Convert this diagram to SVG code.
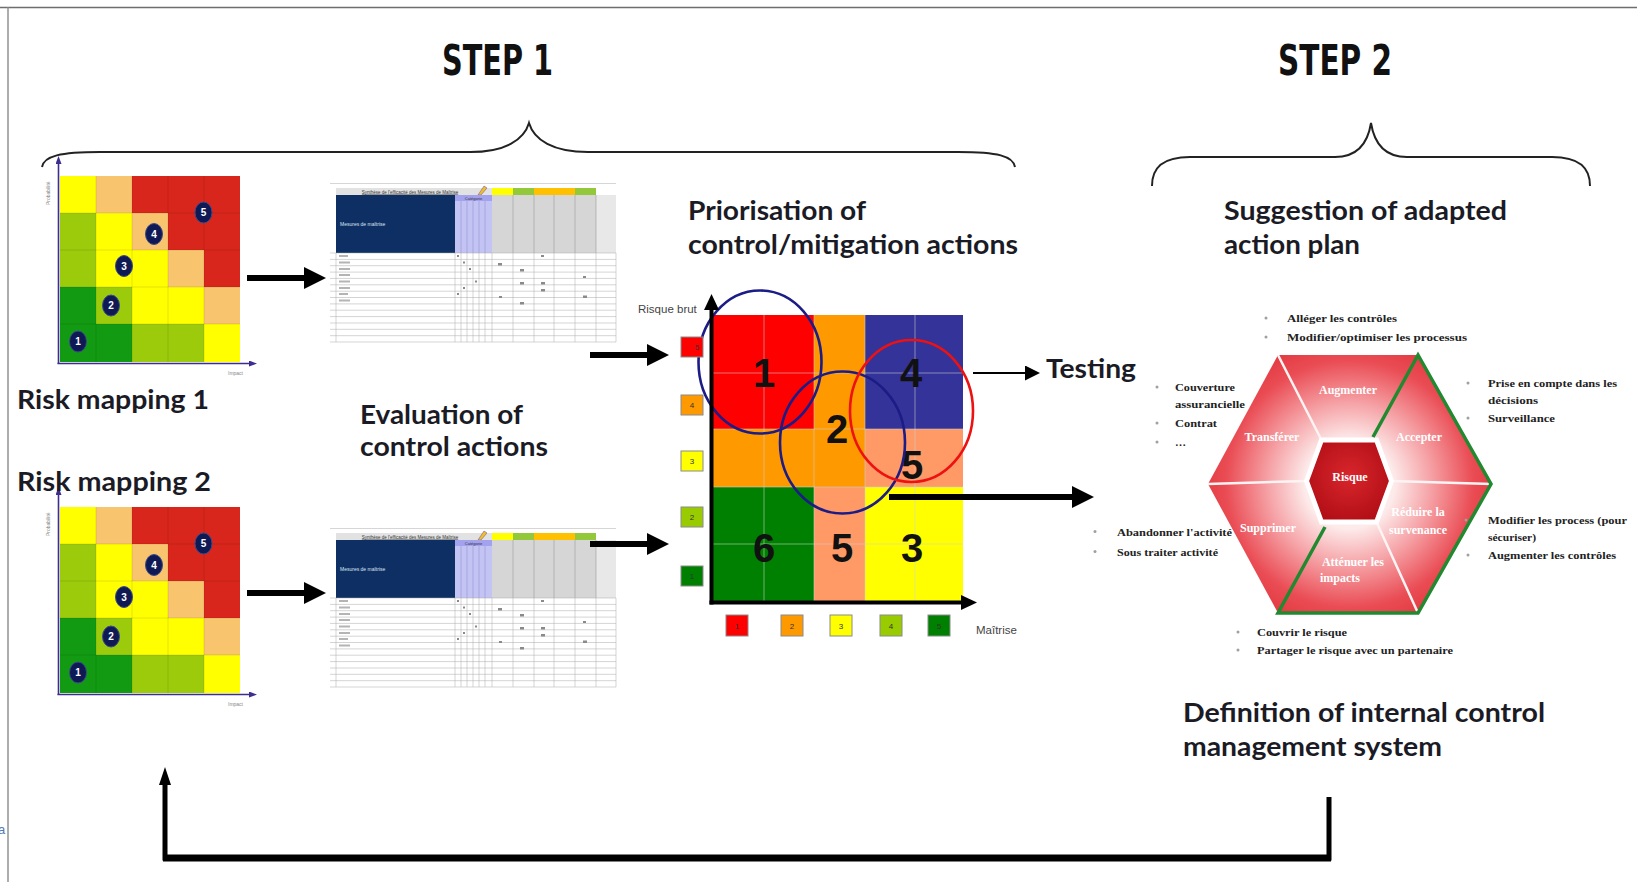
<svg xmlns="http://www.w3.org/2000/svg" xmlns:xlink="http://www.w3.org/1999/xlink" width="1637" height="882" viewBox="0 0 1637 882">
<defs>
<style>
.h{font-family:Lato,'Open Sans','Liberation Sans',sans-serif;font-weight:700;font-size:26px;fill:#1b1b26}
.step{font-family:'DejaVu Sans','Liberation Sans',sans-serif;font-weight:700;font-size:42px;fill:#111}
.num{font-family:'Liberation Sans',Arial,sans-serif;font-weight:700;font-size:40px;fill:#111;text-anchor:middle}
.bul{font-family:'Liberation Serif','Times New Roman',serif;font-weight:700;font-size:11px;fill:#222}
.seg{font-family:'Liberation Serif','Times New Roman',serif;font-weight:700;font-size:12px;fill:#fff;text-anchor:middle}
.tiny{font-family:'Liberation Sans',Arial,sans-serif;font-size:5px;fill:#888}
.lbl{font-family:'Liberation Sans',Arial,sans-serif;font-size:11.5px;fill:#444}
.lg{font-family:'Liberation Sans',Arial,sans-serif;font-size:8px;fill:#333;text-anchor:middle}
.dot{fill:#a0a0a0}
.cnum{font-family:'Liberation Sans',Arial,sans-serif;font-weight:700;font-size:10px;fill:#fff;text-anchor:middle}
.circ{fill:#0f1a55;stroke:#3a4a8a;stroke-width:1}
.grid{stroke:rgba(0,0,0,0.10);stroke-width:1}
.pgrid{stroke:rgba(210,210,210,0.55);stroke-width:1}
.conn{stroke:#000;fill:none}
.lgbox{stroke:#8a8a8a;stroke-width:1}
.shl{stroke:#a8a8a8;stroke-width:0.5}
.mk{fill:#8a8a8a}
</style>
<marker id="ah-big" markerUnits="userSpaceOnUse" markerWidth="22" markerHeight="24" refX="1" refY="12" orient="auto"><path d="M0,1 L22,12 L0,23 z" fill="#000"/></marker>
<marker id="ah-thin" markerUnits="userSpaceOnUse" markerWidth="15" markerHeight="15" refX="1" refY="7.5" orient="auto"><path d="M0,0 L15,7.5 L0,15 z" fill="#000"/></marker>
<marker id="ah-up" markerUnits="userSpaceOnUse" markerWidth="18" markerHeight="12" refX="1" refY="6" orient="auto"><path d="M0,0 L18,6 L0,12 z" fill="#000"/></marker>
<marker id="ah-axis" markerUnits="userSpaceOnUse" markerWidth="16" markerHeight="15" refX="1" refY="7.5" orient="auto"><path d="M0,0 L16,7.5 L0,15 z" fill="#000"/></marker>
<marker id="ah-purple" markerUnits="userSpaceOnUse" markerWidth="8" markerHeight="6" refX="1" refY="3" orient="auto"><path d="M0,0 L8,3 L0,6 z" fill="#3c2d8f"/></marker>
<radialGradient id="hexGrad" gradientUnits="userSpaceOnUse" cx="1349.5" cy="484" r="150">
<stop offset="0" stop-color="#ffffff"/>
<stop offset="0.3" stop-color="#fdeaea"/>
<stop offset="0.55" stop-color="#f5a0a4"/>
<stop offset="0.82" stop-color="#ea4d55"/>
<stop offset="1" stop-color="#e2383f"/>
</radialGradient>
<radialGradient id="innerGrad" gradientUnits="userSpaceOnUse" cx="1349" cy="476" r="48">
<stop offset="0" stop-color="#d8262c"/>
<stop offset="1" stop-color="#b20e16"/>
</radialGradient>

<g id="riskmap-tpl">
<rect x="60" y="176" width="36" height="37" fill="#ffff00"/>
<rect x="96" y="176" width="36" height="37" fill="#f9c46e"/>
<rect x="132" y="176" width="108" height="37" fill="#d9261c"/>
<rect x="60" y="213" width="36" height="37" fill="#9ccb0c"/>
<rect x="96" y="213" width="36" height="37" fill="#ffff00"/>
<rect x="132" y="213" width="36" height="37" fill="#f9c46e"/>
<rect x="168" y="213" width="72" height="37" fill="#d9261c"/>
<rect x="60" y="250" width="36" height="37" fill="#9ccb0c"/>
<rect x="96" y="250" width="72" height="37" fill="#ffff00"/>
<rect x="168" y="250" width="36" height="37" fill="#f9c46e"/>
<rect x="204" y="250" width="36" height="37" fill="#d9261c"/>
<rect x="60" y="287" width="36" height="37" fill="#129a12"/>
<rect x="96" y="287" width="36" height="37" fill="#9ccb0c"/>
<rect x="132" y="287" width="72" height="37" fill="#ffff00"/>
<rect x="204" y="287" width="36" height="37" fill="#f9c46e"/>
<rect x="60" y="324" width="72" height="38" fill="#129a12"/>
<rect x="132" y="324" width="72" height="38" fill="#9ccb0c"/>
<rect x="204" y="324" width="36" height="38" fill="#ffff00"/>
<path class="grid" d="M96,176V362M132,176V362M168,176V362M204,176V362M60,213H240M60,250H240M60,287H240M60,324H240"/>
<line x1="58.5" y1="364" x2="58.5" y2="163" stroke="#3c2d8f" stroke-width="1.6" marker-end="url(#ah-purple)"/>
<line x1="57.5" y1="363.5" x2="250" y2="363.5" stroke="#3c2d8f" stroke-width="1.6" marker-end="url(#ah-purple)"/>
<text class="tiny" transform="translate(50,205) rotate(-90)">Probabilité</text>
<text class="tiny" x="228" y="375">Impact</text>
<ellipse class="circ" cx="78" cy="341.5" rx="8.5" ry="10.5"/><text class="cnum" x="78" y="345">1</text>
<ellipse class="circ" cx="111" cy="305.5" rx="8.5" ry="10.5"/><text class="cnum" x="111" y="309">2</text>
<ellipse class="circ" cx="124" cy="266" rx="8.5" ry="10.5"/><text class="cnum" x="124" y="269.5">3</text>
<ellipse class="circ" cx="154" cy="234" rx="8.5" ry="10.5"/><text class="cnum" x="154" y="237.5">4</text>
<ellipse class="circ" cx="203.5" cy="212.5" rx="8.5" ry="10.5"/><text class="cnum" x="203.5" y="216">5</text>
</g>

<g id="sheet-tpl">
<line x1="330" y1="183.5" x2="616" y2="183.5" stroke="#d6d6d6" stroke-width="1"/>
<rect x="336" y="188" width="156" height="7" fill="#e2e2e2"/>
<text x="410" y="193.5" font-family="'Liberation Sans',Arial,sans-serif" font-size="4.5" fill="#333" text-anchor="middle" text-decoration="underline">Synthèse de l'efficacité des Mesures de Maîtrise</text>
<path d="M478,195 L484,186 L487,188 L481,195 z" fill="#f0c020" stroke="#7a5ab0" stroke-width="0.6"/>
<rect x="492" y="188" width="21" height="7" fill="#ffff00"/>
<rect x="513" y="188" width="21" height="7" fill="#92c83a"/>
<rect x="534" y="188" width="20" height="7" fill="#ffc000"/>
<rect x="554" y="188" width="21" height="7" fill="#ffc000"/>
<rect x="575" y="188" width="21" height="7" fill="#92c83a"/>
<rect x="336" y="195" width="119" height="58" fill="#0e2f63"/>
<text x="340" y="226" font-family="'Liberation Sans',Arial,sans-serif" font-size="5" fill="#dfe6f2">Mesures de maîtrise</text>
<rect x="455" y="195" width="37" height="58" fill="#c4c4f4"/>
<rect x="455" y="195" width="37" height="6" fill="#a2a2ee"/>
<text x="473.5" y="199.8" font-family="'Liberation Sans',Arial,sans-serif" font-size="4" fill="#333" text-anchor="middle">Catégorie</text>
<path d="M461,201V253M467,201V253M473,201V253M479,201V253M485,201V253" stroke="#8a8ac8" stroke-width="0.5"/>
<rect x="492" y="195" width="104" height="58" fill="#d6d6d6"/>
<rect x="596" y="195" width="20" height="58" fill="#e8e8e8"/>
<path d="M513,195V253M534,195V253M554,195V253M575,195V253M596,195V253" stroke="#9a9a9a" stroke-width="0.6"/>
<path class="shl" d="M330,253H616M330,259.4H616M330,265.7H616M330,272.1H616M330,278.4H616M330,284.8H616M330,291.2H616M330,297.5H616M330,303.9H616M330,310.2H616M330,316.6H616M330,323H616M330,329.3H616M330,335.7H616M330,342H616"/>
<path class="shl" d="M336,253V342M455,253V342M461,253V342M467,253V342M473,253V342M479,253V342M485,253V342M492,253V342M513,253V342M534,253V342M554,253V342M575,253V342M596,253V342M616,253V342"/>
<g fill="#b4b4b4">
<rect x="339" y="255" width="9" height="2"/><rect x="339" y="261.5" width="11" height="2"/><rect x="339" y="268" width="11" height="2"/><rect x="339" y="274" width="11" height="2"/><rect x="339" y="280.5" width="11" height="2"/><rect x="339" y="287" width="11" height="2"/><rect x="339" y="293" width="9" height="2"/><rect x="339" y="299.5" width="11" height="2"/>
</g>
<g class="mk">
<rect x="541" y="255" width="3" height="2"/><rect x="498" y="263" width="4" height="2.5"/><rect x="520" y="269" width="4" height="2.5"/><rect x="583" y="276" width="3" height="2"/><rect x="520" y="282" width="4" height="2.5"/><rect x="541" y="282" width="4" height="2.5"/><rect x="541" y="289" width="4" height="2.5"/><rect x="499" y="296" width="3" height="2"/><rect x="583" y="295.5" width="4" height="2.5"/><rect x="520" y="302" width="4" height="2.5"/>
<rect x="457" y="255" width="2" height="2"/><rect x="463" y="261.5" width="2" height="2"/><rect x="469" y="268" width="2" height="2"/><rect x="475" y="280.5" width="2" height="2"/><rect x="463" y="287" width="2" height="2"/><rect x="457" y="293" width="2" height="2"/>
</g>
</g>
</defs>

<rect x="0" y="0" width="1637" height="882" fill="#ffffff"/>
<g id="frame">
<line x1="0" y1="7.5" x2="1637" y2="7.5" stroke="#6e6e6e" stroke-width="1.6"/>
<line x1="8" y1="7" x2="8" y2="882" stroke="#8a8a8a" stroke-width="1.4"/>
<text x="-2" y="834" font-family="'Liberation Sans',Arial,sans-serif" font-size="13" fill="#5577bb">a</text>
</g>

<g id="step1">
<text class="step" x="442" y="75" textLength="111" lengthAdjust="spacingAndGlyphs">STEP 1</text>
<path d="M42,167 C44,156 60,152 100,152 L470,152 C505,152 524,140 529,123 C534,140 553,152 588,152 L958,152 C998,152 1013,156 1015,167" fill="none" stroke="#222" stroke-width="2"/>
</g>
<g id="step2">
<text class="step" x="1278" y="75" textLength="114" lengthAdjust="spacingAndGlyphs">STEP 2</text>
<path d="M1152,186 C1152,168 1162,157 1190,157 L1335,157 C1358,157 1368,142 1371,123 C1374,142 1384,157 1407,157 L1552,157 C1580,157 1590,168 1590,186" fill="none" stroke="#222" stroke-width="2"/>
</g>

<g id="risk-mapping-1">
<use xlink:href="#riskmap-tpl" href="#riskmap-tpl"/>
<text class="h" x="17" y="409" textLength="192" lengthAdjust="spacingAndGlyphs">Risk mapping 1</text>
</g>
<g id="risk-mapping-2">
<use xlink:href="#riskmap-tpl" href="#riskmap-tpl" transform="translate(0,331)"/>
<text class="h" x="17" y="491" textLength="194" lengthAdjust="spacingAndGlyphs">Risk mapping 2</text>
</g>

<g id="evaluation-sheet-1">
<use xlink:href="#sheet-tpl" href="#sheet-tpl"/>
</g>
<g id="evaluation-sheet-2">
<use xlink:href="#sheet-tpl" href="#sheet-tpl" transform="translate(0,345)"/>
</g>
<g id="evaluation-label">
<text class="h" x="360" y="424" textLength="163" lengthAdjust="spacingAndGlyphs">Evaluation of</text>
<text class="h" x="360" y="456" textLength="188" lengthAdjust="spacingAndGlyphs">control actions</text>
</g>

<g id="priorisation">
<text class="h" x="688" y="220" textLength="178" lengthAdjust="spacingAndGlyphs">Priorisation of</text>
<text class="h" x="688" y="254" textLength="330" lengthAdjust="spacingAndGlyphs">control/mitigation actions</text>
<rect x="713" y="315" width="101" height="114" fill="#ff0000"/>
<rect x="814" y="315" width="51" height="172" fill="#ff9900"/>
<rect x="713" y="429" width="101" height="58" fill="#ff9900"/>
<rect x="865" y="315" width="98" height="114" fill="#333399"/>
<rect x="865" y="429" width="98" height="58" fill="#ff9966"/>
<rect x="713" y="487" width="101" height="115" fill="#008000"/>
<rect x="814" y="487" width="51" height="115" fill="#ff9966"/>
<rect x="865" y="487" width="98" height="115" fill="#ffff00"/>
<path class="pgrid" d="M764,315V602M814,315V602M865,315V602M915,315V602M713,373H963M713,429H963M713,487H963M713,544H963"/>
<text class="num" x="764" y="387">1</text>
<text class="num" x="837" y="443">2</text>
<text class="num" x="911" y="387">4</text>
<text class="num" x="912" y="479">5</text>
<text class="num" x="764" y="562">6</text>
<text class="num" x="842" y="562">5</text>
<text class="num" x="912" y="562">3</text>
<ellipse cx="760" cy="362" rx="61.5" ry="71.5" fill="none" stroke="#1c1c86" stroke-width="2.6"/>
<ellipse cx="842.5" cy="442.5" rx="62.5" ry="71" fill="none" stroke="#1c1c86" stroke-width="2.6"/>
<ellipse cx="911.5" cy="411" rx="61.5" ry="71" fill="none" stroke="#ee1111" stroke-width="2.6"/>
<line x1="711.5" y1="604.5" x2="711.5" y2="309" stroke="#000" stroke-width="4" marker-end="url(#ah-axis)"/>
<line x1="709.5" y1="602.5" x2="962" y2="602.5" stroke="#000" stroke-width="4" marker-end="url(#ah-axis)"/>
<text class="lbl" x="638" y="313">Risque brut</text>
<text class="lbl" x="976" y="634">Maîtrise</text>
<rect class="lgbox" x="681" y="337" width="22" height="20" fill="#ff0000"/><text class="lg" x="697" y="350">5</text>
<rect class="lgbox" x="681" y="395" width="22" height="20" fill="#ff9900"/><text class="lg" x="692" y="408">4</text>
<rect class="lgbox" x="681" y="451" width="22" height="20" fill="#ffff00"/><text class="lg" x="692" y="464">3</text>
<rect class="lgbox" x="681" y="507" width="22" height="20" fill="#99cc00"/><text class="lg" x="692" y="520">2</text>
<rect class="lgbox" x="681" y="566" width="22" height="20" fill="#008000"/><text class="lg" x="692" y="579">1</text>
<rect class="lgbox" x="726" y="615" width="22" height="21" fill="#ff0000"/><text class="lg" x="737" y="628.5">1</text>
<rect class="lgbox" x="781" y="615" width="22" height="21" fill="#ff9900"/><text class="lg" x="792" y="628.5">2</text>
<rect class="lgbox" x="830" y="615" width="22" height="21" fill="#ffff00"/><text class="lg" x="841" y="628.5">3</text>
<rect class="lgbox" x="880" y="615" width="22" height="21" fill="#99cc00"/><text class="lg" x="891" y="628.5">4</text>
<rect class="lgbox" x="928" y="615" width="22" height="21" fill="#008000"/><text class="lg" x="939" y="628.5">5</text>
</g>

<g id="testing">
<text class="h" x="1046" y="378" textLength="90" lengthAdjust="spacingAndGlyphs">Testing</text>
</g>

<g id="action-plan">
<text class="h" x="1224" y="220" textLength="283" lengthAdjust="spacingAndGlyphs">Suggestion of adapted</text>
<text class="h" x="1224" y="254" textLength="136" lengthAdjust="spacingAndGlyphs">action plan</text>
<polygon points="1208,484 1278,355 1418,355 1491,484 1418,613 1278,613" fill="url(#hexGrad)"/>
<path d="M1278,355 L1321.5,440 M1208,484 L1306.5,481 M1491,484 L1391.5,481 M1418,613 L1376.5,522" stroke="#fff3f3" stroke-width="2.5" fill="none"/>
<polygon points="1306.5,481 1321.5,440 1376.5,440 1391.5,481 1376.5,522 1321.5,522" fill="url(#innerGrad)" stroke="#fff" stroke-width="5"/>
<path d="M1373,437 L1418,355 L1491,484 L1418,613 L1278,613 L1325,527" fill="none" stroke="#21892f" stroke-width="3.5" stroke-linejoin="miter"/>
<text class="seg" x="1348" y="394">Augmenter</text>
<text class="seg" x="1272" y="441">Transférer</text>
<text class="seg" x="1419" y="441">Accepter</text>
<text class="seg" x="1350" y="481" font-size="13">Risque</text>
<text class="seg" x="1268" y="532">Supprimer</text>
<text class="seg" x="1418" y="516">Réduire la</text>
<text class="seg" x="1418" y="534">survenance</text>
<text class="seg" x="1353" y="566">Atténuer les</text>
<text class="seg" x="1340" y="582">impacts</text>
<circle class="dot" cx="1266" cy="318" r="1.5"/><text class="bul" x="1287" y="322" textLength="110" lengthAdjust="spacingAndGlyphs">Alléger les contrôles</text>
<circle class="dot" cx="1266" cy="337" r="1.5"/><text class="bul" x="1287" y="341" textLength="180" lengthAdjust="spacingAndGlyphs">Modifier/optimiser les processus</text>
<circle class="dot" cx="1157" cy="387" r="1.5"/><text class="bul" x="1175" y="391" textLength="60" lengthAdjust="spacingAndGlyphs">Couverture</text>
<text class="bul" x="1175" y="408" textLength="70" lengthAdjust="spacingAndGlyphs">assurancielle</text>
<circle class="dot" cx="1157" cy="423" r="1.5"/><text class="bul" x="1175" y="427" textLength="42" lengthAdjust="spacingAndGlyphs">Contrat</text>
<circle class="dot" cx="1157" cy="442" r="1.5"/><text class="bul" x="1175" y="446">…</text>
<circle class="dot" cx="1095" cy="531.5" r="1.5"/><text class="bul" x="1117" y="535.5" textLength="115" lengthAdjust="spacingAndGlyphs">Abandonner l'activité</text>
<circle class="dot" cx="1095" cy="551.5" r="1.5"/><text class="bul" x="1117" y="555.5" textLength="101" lengthAdjust="spacingAndGlyphs">Sous traiter activité</text>
<circle class="dot" cx="1468" cy="383" r="1.5"/><text class="bul" x="1488" y="387" textLength="129" lengthAdjust="spacingAndGlyphs">Prise en compte dans les</text>
<text class="bul" x="1488" y="404" textLength="50" lengthAdjust="spacingAndGlyphs">décisions</text>
<circle class="dot" cx="1468" cy="418" r="1.5"/><text class="bul" x="1488" y="422" textLength="67" lengthAdjust="spacingAndGlyphs">Surveillance</text>
<circle class="dot" cx="1466" cy="520" r="1.5"/><text class="bul" x="1488" y="524" textLength="139" lengthAdjust="spacingAndGlyphs">Modifier les process (pour</text>
<text class="bul" x="1488" y="541" textLength="48" lengthAdjust="spacingAndGlyphs">sécuriser)</text>
<circle class="dot" cx="1468" cy="555" r="1.5"/><text class="bul" x="1488" y="559" textLength="128" lengthAdjust="spacingAndGlyphs">Augmenter les contrôles</text>
<circle class="dot" cx="1238" cy="632" r="1.5"/><text class="bul" x="1257" y="636" textLength="90" lengthAdjust="spacingAndGlyphs">Couvrir le risque</text>
<circle class="dot" cx="1238" cy="650" r="1.5"/><text class="bul" x="1257" y="654" textLength="196" lengthAdjust="spacingAndGlyphs">Partager le risque avec un partenaire</text>
</g>

<g id="internal-control-system">
<text class="h" x="1183" y="722" textLength="362" lengthAdjust="spacingAndGlyphs">Definition of internal control</text>
<text class="h" x="1183" y="756" textLength="259" lengthAdjust="spacingAndGlyphs">management system</text>
</g>

<g id="connectors">
<line class="conn" x1="247" y1="278" x2="305" y2="278" stroke-width="6" marker-end="url(#ah-big)"/>
<line class="conn" x1="247" y1="593" x2="305" y2="593" stroke-width="6" marker-end="url(#ah-big)"/>
<line class="conn" x1="590" y1="355" x2="648" y2="355" stroke-width="6" marker-end="url(#ah-big)"/>
<line class="conn" x1="590" y1="544" x2="648" y2="544" stroke-width="6" marker-end="url(#ah-big)"/>
<line class="conn" x1="889" y1="497" x2="1073" y2="497" stroke-width="6" marker-end="url(#ah-big)"/>
<line class="conn" x1="973" y1="373" x2="1026" y2="373" stroke-width="2" marker-end="url(#ah-thin)"/>
<path class="conn" d="M1329,797 V858 H165 V784" stroke-width="5" marker-end="url(#ah-up)"/>
<line class="conn" x1="163" y1="858" x2="1331" y2="858" stroke-width="7"/>
</g>
</svg>
